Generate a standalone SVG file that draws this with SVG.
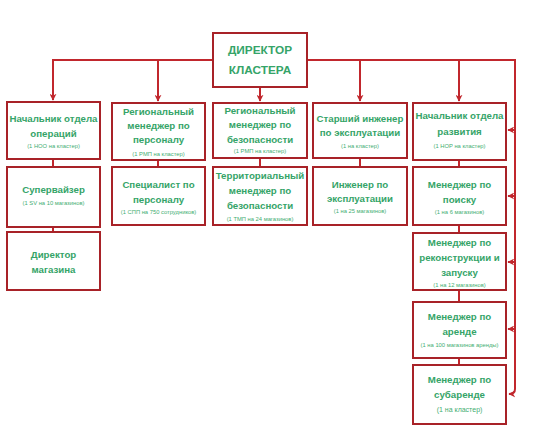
<svg xmlns="http://www.w3.org/2000/svg" width="536" height="433" viewBox="0 0 536 433">
<defs>
<marker id="ah" viewBox="0 0 10 10" refX="9" refY="5" markerWidth="7" markerHeight="7" orient="auto" markerUnits="userSpaceOnUse">
<path d="M0,0 L10,5 L0,10 L3,5 Z" fill="#c1272d"/>
</marker>
<style>
.box{fill:#fff;stroke:#a82228;stroke-width:2}
.ln{fill:none;stroke:#c1272d;stroke-width:2}
.t{font-family:"Liberation Sans",Arial,sans-serif;font-weight:bold;font-size:9.7px;fill:#35a468;text-anchor:middle}
.tt{font-family:"Liberation Sans",Arial,sans-serif;font-weight:bold;font-size:11.8px;fill:#35a468;text-anchor:middle}
.s{font-family:"Liberation Sans",Arial,sans-serif;font-size:5.8px;fill:#3fae72;text-anchor:middle}
</style>
</defs>
<rect width="536" height="433" fill="#fff"/>
<g id="connectors">
<path class="ln" d="M213,60 H53 V100" marker-end="url(#ah)"/>
<path class="ln" d="M158,60 V101" marker-end="url(#ah)"/>
<path class="ln" d="M260,87 V101" marker-end="url(#ah)"/>
<path class="ln" d="M307,60 H515 V389 Q515,394 509,394" marker-end="url(#ah)"/>
<path class="ln" d="M360,60 V101" marker-end="url(#ah)"/>
<path class="ln" d="M459,60 V101" marker-end="url(#ah)"/>
<path class="ln" d="M515,130 H508" marker-end="url(#ah)"/>
<path class="ln" d="M515,196 H508" marker-end="url(#ah)"/>
<path class="ln" d="M515,262 H508" marker-end="url(#ah)"/>
<path class="ln" d="M515,329 H508" marker-end="url(#ah)"/>
<path class="ln" d="M53,159 V167 M53,227 V232"/>
<path class="ln" d="M158,160 V167"/>
<path class="ln" d="M260,158 V167"/>
<path class="ln" d="M360,158 V167"/>
<path class="ln" d="M459,160 V167 M459,225 V233 M459,290 V302 M459,358 V365"/>
</g>
<g id="director">
<rect class="box" x="213" y="33" width="94" height="54"/>
<text class="tt" x="260" y="54">ДИРЕКТОР</text>
<text class="tt" x="260" y="74">КЛАСТЕРА</text>
</g>
<g id="n-ops">
<rect class="box" x="7" y="102" width="93" height="57"/>
<text class="t" x="53.5" y="122">Начальник отдела</text>
<text class="t" x="53.5" y="137">операций</text>
<text class="s" x="53.5" y="148">(1 НОО на кластер)</text>
</g>
<g id="n-hr">
<rect class="box" x="112" y="103" width="93" height="57"/>
<text class="t" x="158.5" y="115">Региональный</text>
<text class="t" x="158.5" y="129">менеджер по</text>
<text class="t" x="158.5" y="143">персоналу</text>
<text class="s" x="158.5" y="156">(1 РМП на кластер)</text>
</g>
<g id="n-sec">
<rect class="box" x="213" y="103" width="94" height="55"/>
<text class="t" x="260" y="114">Региональный</text>
<text class="t" x="260" y="128">менеджер по</text>
<text class="t" x="260" y="143">безопасности</text>
<text class="s" x="260" y="153">(1 РМП на кластер)</text>
</g>
<g id="n-eng">
<rect class="box" x="313" y="103" width="94" height="55"/>
<text class="t" x="360" y="122">Старший инженер</text>
<text class="t" x="360" y="136">по эксплуатации</text>
<text class="s" x="360" y="148">(1 на кластер)</text>
</g>
<g id="n-dev">
<rect class="box" x="413" y="103" width="93" height="57"/>
<text class="t" x="459.5" y="119">Начальник отдела</text>
<text class="t" x="459.5" y="135">развития</text>
<text class="s" x="459.5" y="148">(1 НОР на кластер)</text>
</g>
<g id="n-sv">
<rect class="box" x="7" y="167" width="93" height="60"/>
<text class="t" x="53.5" y="193">Супервайзер</text>
<text class="s" x="53.5" y="205">(1 SV на 10 магазинов)</text>
</g>
<g id="n-hrs">
<rect class="box" x="112" y="167" width="93" height="58"/>
<text class="t" x="158.5" y="188">Специалист по</text>
<text class="t" x="158.5" y="203">персоналу</text>
<text class="s" x="158.5" y="214">(1 СПП на 750 сотрудников)</text>
</g>
<g id="n-tsec">
<rect class="box" x="213" y="167" width="94" height="58"/>
<text class="t" x="260" y="179">Территориальный</text>
<text class="t" x="260" y="194">менеджер по</text>
<text class="t" x="260" y="209">безопасности</text>
<text class="s" x="260" y="221">(1 ТМП на 24 магазинов)</text>
</g>
<g id="n-eng2">
<rect class="box" x="313" y="167" width="94" height="58"/>
<text class="t" x="360" y="188">Инженер по</text>
<text class="t" x="360" y="202">эксплуатации</text>
<text class="s" x="360" y="213">(1 на 25 магазинов)</text>
</g>
<g id="n-search">
<rect class="box" x="413" y="167" width="93" height="58"/>
<text class="t" x="459.5" y="188">Менеджер по</text>
<text class="t" x="459.5" y="203">поиску</text>
<text class="s" x="459.5" y="214">(1 на 6 магазинов)</text>
</g>
<g id="n-store">
<rect class="box" x="7" y="232" width="93" height="58"/>
<text class="t" x="53.5" y="258">Директор</text>
<text class="t" x="53.5" y="273">магазина</text>
</g>
<g id="n-recon">
<rect class="box" x="413" y="233" width="93" height="57"/>
<text class="t" x="459.5" y="246">Менеджер по</text>
<text class="t" x="459.5" y="261">реконструкции и</text>
<text class="t" x="459.5" y="276">запуску</text>
<text class="s" x="459.5" y="287">(1 на 12 магазинов)</text>
</g>
<g id="n-rent">
<rect class="box" x="413" y="302" width="93" height="56"/>
<text class="t" x="459.5" y="320">Менеджер по</text>
<text class="t" x="459.5" y="335">аренде</text>
<text class="s" x="459.5" y="347">(1 на 100 магазинов аренды)</text>
</g>
<g id="n-sub">
<rect class="box" x="413" y="365" width="93" height="59"/>
<text class="t" x="459.5" y="383">Менеджер по</text>
<text class="t" x="459.5" y="398">субаренде</text>
<text class="s" x="459.5" y="412" style="font-size:7px">(1 на кластер)</text>
</g>
</svg>
